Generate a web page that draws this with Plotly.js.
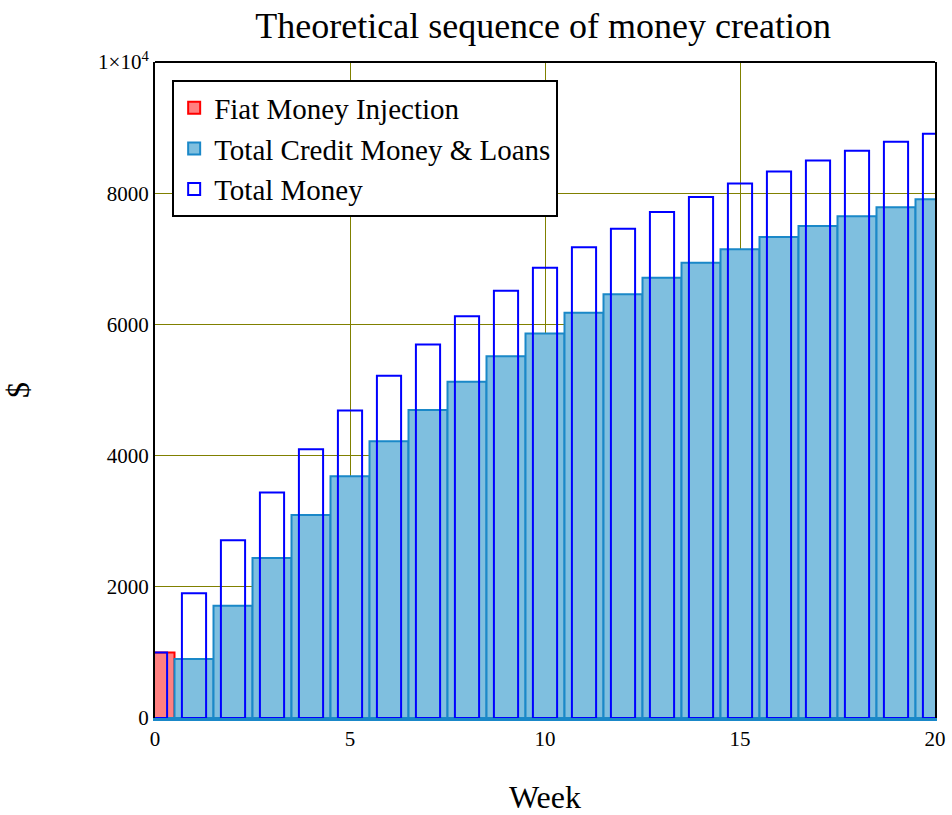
<!DOCTYPE html>
<html>
<head>
<meta charset="utf-8">
<script src="https://cdn.plot.ly/plotly-3.0.1.min.js"></script>
<style>html,body{margin:0;padding:0;background:#fff;}#chart{width:952px;height:815px;}</style>
</head>
<body>
<div id="chart"></div>
<script>
var weeks = [0,1,2,3,4,5,6,7,8,9,10,11,12,13,14,15,16,17,18,19,20];
var fiatWeeks = [0];
var fiatInjection = [1000];
var creditMoney = [0,900,1710,2439,3095,3686,4217,4695,5126,5513,5862,6176,6458,6712,6941,7147,7332,7499,7649,7784,7906];
var totalMoney = [1000,1900,2710,3439,4095,4686,5217,5695,6126,6513,6862,7176,7458,7712,7941,8147,8332,8499,8649,8784,8906];
var xTickVals = [0,5,10,15,20];
var yTickVals = [0,2000,4000,6000,8000,10000];
var yTickText = ['0','2000','4000','6000','8000','1\u00d710<sup>4</sup>'];

var serif = 'Liberation Serif, Times New Roman, serif';

var traces = [
  {type:'bar', name:'Fiat Money Injection', x:fiatWeeks, y:fiatInjection, width:1,
   marker:{color:'#ff8080', line:{color:'#ff0000', width:2}}},
  {type:'bar', name:'Total Credit Money & Loans', x:weeks, y:creditMoney, width:1,
   marker:{color:'#7fbfdf', line:{color:'#1a88c8', width:2}}},
  {type:'bar', name:'Total Money', x:weeks, y:totalMoney, width:0.62,
   marker:{color:'rgba(0,0,0,0)', line:{color:'#0000ff', width:2}}}
];

var layout = {
  width:952, height:815,
  paper_bgcolor:'#ffffff', plot_bgcolor:'#ffffff',
  margin:{l:155, r:17, t:62, b:97},
  barmode:'overlay',
  font:{family:serif, color:'#000', size:21},
  title:{text:'Theoretical sequence of money creation', font:{family:serif, size:36, color:'#000'}, x:0.5705, xanchor:'center', y:0.984, yanchor:'top'},
  xaxis:{range:[0,20], tickvals:xTickVals, ticktext:xTickVals.map(String), showgrid:true, gridcolor:'#808000', gridwidth:1,
         zeroline:false, showline:true, linecolor:'#1a88c8', linewidth:3, mirror:false, ticks:'',
         tickfont:{family:serif, size:21}, title:{text:'Week', font:{family:serif, size:32}, standoff:38}},
  yaxis:{range:[0,10000], tickvals:yTickVals, ticktext:yTickText, showgrid:true, gridcolor:'#808000', gridwidth:1,
         zeroline:false, showline:true, linecolor:'#000', linewidth:2, mirror:true, ticks:'',
         tickfont:{family:serif, size:21}, title:{text:'$', font:{family:serif, size:32}, standoff:66}},
  shapes:[{type:'line', xref:'paper', yref:'paper', x0:0, x1:1, y0:1, y1:1, line:{color:'#000', width:2}}],
  legend:{x:0.022, y:0.972, xanchor:'left', yanchor:'top', bgcolor:'#ffffff', bordercolor:'#000', borderwidth:2,
          itemwidth:30, font:{family:serif, size:29, color:'#000'}, traceorder:'normal', tracegroupgap:0},
  showlegend:true
};

Plotly.newPlot('chart', traces, layout, {displayModeBar:false, staticPlot:true});
</script>
</body>
</html>
